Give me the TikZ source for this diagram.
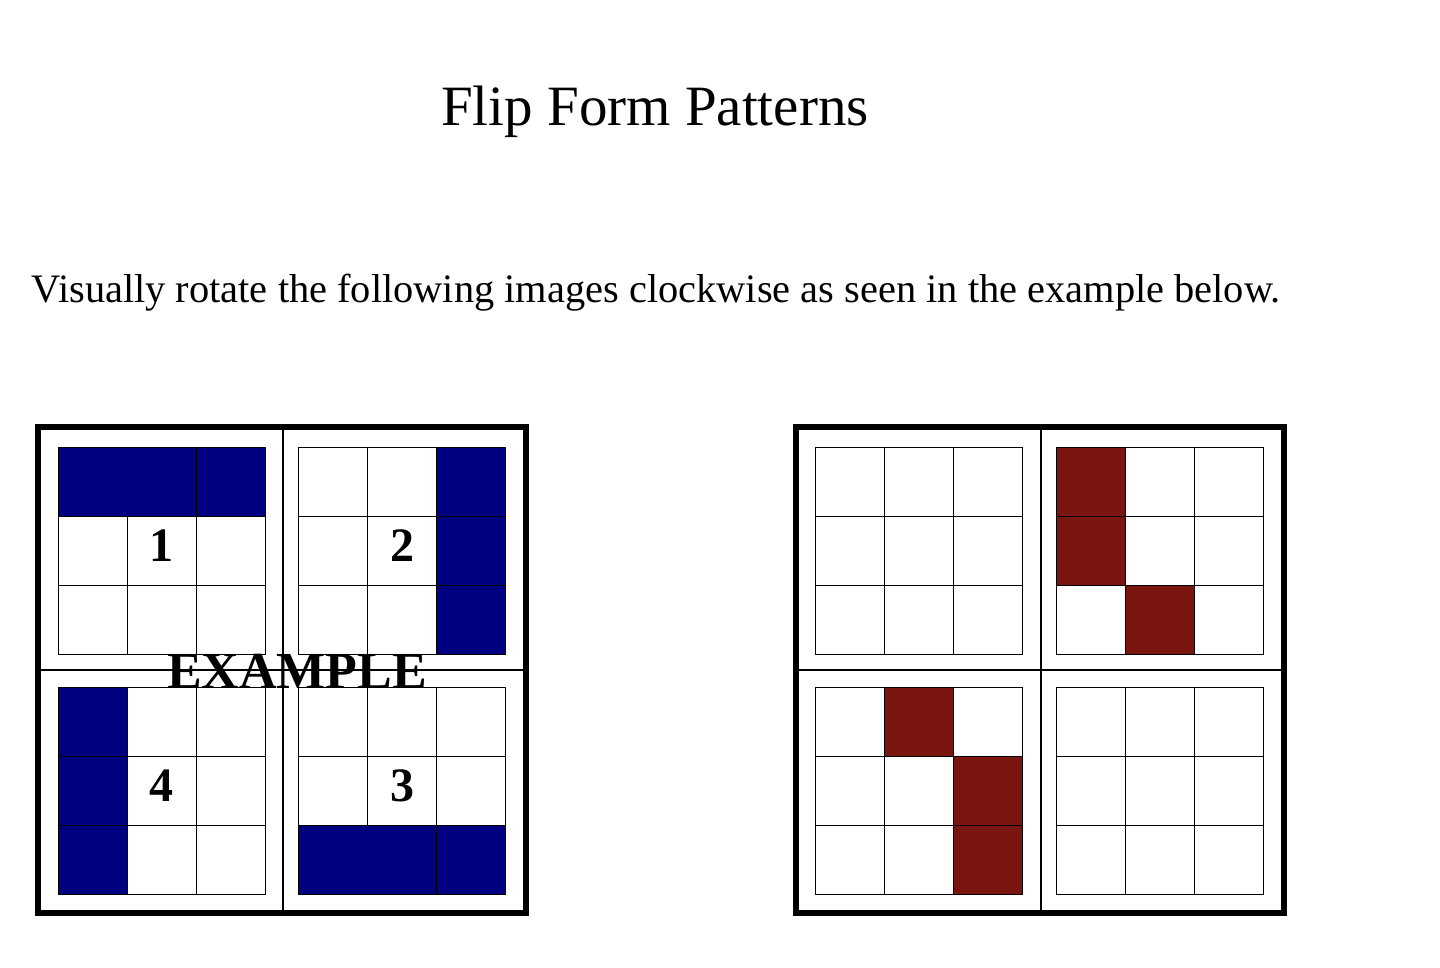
\documentclass[tikz,border=0pt]{standalone}
\usepackage{fontspec}
\setmainfont{Liberation Serif}
\definecolor{navy}{RGB}{0,0,128}
\definecolor{dred}{RGB}{122,21,16}
\tikzset{cell/.style={draw=black,line width=1pt},
  outer/.style={draw=black,line width=5.5pt},
  divider/.style={draw=black,line width=1.5pt},
  num/.style={font=\bfseries\fontsize{48}{48}\selectfont}}
\newcommand{\mygrid}[2]{%
  \foreach \r in {0,1,2}{\foreach \c in {0,1,2}{
    \path[cell] ({#1+\c*69},{#2+\r*69}) rectangle ++(69,69);}}}
\begin{document}
\begin{tikzpicture}[x=1pt,y=-1pt]
\useasboundingbox (0,0) rectangle (1440,967);
\node[font=\fontsize{57}{57}\selectfont] (title) at (655,112) {Flip Form Patterns};
\node[font=\fontsize{40.4}{40.4}\selectfont] (sub) at (656,293) {Visually rotate the following images clockwise as seen in the example below.};
\foreach \gx/\gy/\cells in {58/447/{0/0,0/1,0/2},298/447/{0/2,1/2,2/2},58/687/{0/0,1/0,2/0},298/687/{2/0,2/1,2/2}}{
  \foreach \r/\c in \cells {\fill[navy] ({\gx+\c*69},{\gy+\r*69}) rectangle ++(69,69);}
  \mygrid{\gx}{\gy}}
\foreach \gx/\gy/\cells in {1056/447/{0/0,1/0,2/1},815/687/{0/1,1/2,2/2}}{
  \foreach \r/\c in \cells {\fill[dred] ({\gx+\c*69},{\gy+\r*69}) rectangle ++(69,69);}}
\foreach \gx/\gy in {815/447,1056/447,815/687,1056/687}{\mygrid{\gx}{\gy}}
\foreach \ox in {38,796}{
  \draw[divider] (\ox+245,427) -- (\ox+245,913);
  \draw[divider] (\ox,670) -- (\ox+488,670);
  \draw[outer] (\ox,427) rectangle (\ox+488,913);}
\node[num] (n1) at (161,546) {1};
\node[num] (n2) at (402,546) {2};
\node[num] (n4) at (161,786) {4};
\node[num] (n3) at (402,786) {3};
\node[font=\bfseries\fontsize{52}{52}\selectfont] (ex) at (297,671) {EXAMPLE};
\end{tikzpicture}
\end{document}
